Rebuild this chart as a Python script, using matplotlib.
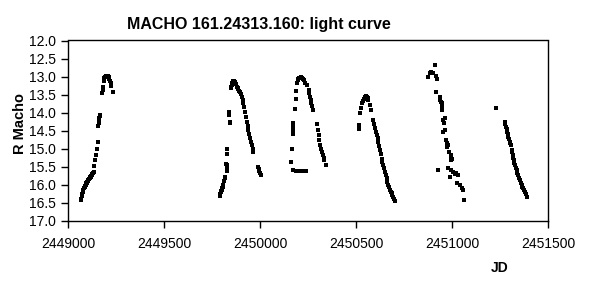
import numpy as np
import matplotlib
matplotlib.use('Agg')
import matplotlib.pyplot as plt
from matplotlib.ticker import FormatStrFormatter, MultipleLocator

plt.rcParams['font.family'] = ['Liberation Sans', 'DejaVu Sans']

# ── Photometry, one list per observing season (JD, R mag) ─────────────
jd1 = [2449066, 2449068, 2449071, 2449074, 2449077, 2449080, 2449083, 2449086,
       2449089, 2449092, 2449095, 2449097, 2449100, 2449103, 2449106, 2449109,
       2449112, 2449115, 2449118, 2449121, 2449124, 2449127, 2449130, 2449133,
       2449137, 2449141, 2449144, 2449149, 2449156,
       2449157, 2449159, 2449161, 2449163, 2449166, 2449169,
       2449175, 2449181, 2449184,
       2449185, 2449189, 2449193, 2449198, 2449203, 2449207, 2449211, 2449215,
       2449219, 2449222, 2449225, 2449236]
mag1 = [16.43, 16.40, 16.32, 16.25, 16.20, 16.16, 16.10, 16.06,
        16.03, 16.00, 15.97, 15.95, 15.92, 15.89, 15.87, 15.85,
        15.82, 15.80, 15.78, 15.76, 15.74, 15.71, 15.68, 15.64,
        15.49, 15.33, 15.18, 15.02, 14.81,
        14.38, 14.30, 14.22, 14.15, 14.10, 14.07,
        13.47, 13.38, 13.28,
        13.12, 13.03, 13.00, 12.98, 12.98, 12.99, 13.02, 13.06,
        13.12, 13.18, 13.25, 13.44]

jd2 = [2449790, 2449793, 2449795, 2449798, 2449800, 2449803, 2449806, 2449809,
       2449812, 2449816, 2449819,
       2449826, 2449829,
       2449825, 2449826, 2449827, 2449828, 2449829, 2449830,
       2449840, 2449841, 2449844, 2449845,
       2449847, 2449850, 2449852, 2449855, 2449857, 2449861, 2449865, 2449870,
       2449875, 2449879, 2449883, 2449887, 2449891, 2449896, 2449900, 2449905,
       2449909, 2449913, 2449917, 2449922, 2449926, 2449931, 2449935, 2449939,
       2449944, 2449948, 2449952, 2449957, 2449961, 2449965,
       2449990, 2449993, 2449996, 2450000, 2450005]
mag2 = [16.31, 16.26, 16.22, 16.18, 16.15, 16.10, 16.06, 16.00,
        15.90, 15.83, 15.80,
        15.00, 15.15,
        15.42, 15.46, 15.50, 15.54, 15.58, 15.62,
        13.98, 14.06, 14.26, 14.30,
        13.33, 13.28, 13.24, 13.18, 13.14, 13.12, 13.12, 13.16,
        13.22, 13.28, 13.32, 13.36, 13.39, 13.42, 13.48, 13.56,
        13.65, 13.74, 13.86, 13.98, 14.12, 14.25, 14.37, 14.49,
        14.61, 14.72, 14.81, 14.90, 15.00, 15.09,
        15.50, 15.56, 15.62, 15.68, 15.73]

jd3 = [2450160, 2450168, 2450170, 2450171, 2450173, 2450174, 2450181, 2450186,
       2450188,
       2450191, 2450196, 2450200, 2450203, 2450208, 2450212, 2450216, 2450220,
       2450225, 2450229, 2450236, 2450243,
       2450253, 2450257, 2450260, 2450264, 2450267, 2450271, 2450278,
       2450295, 2450300, 2450305, 2450309, 2450312, 2450318, 2450322, 2450326,
       2450331, 2450335, 2450344,
       2450174, 2450185, 2450197, 2450205, 2450215, 2450225, 2450240]
mag3 = [15.37, 15.00, 14.59, 14.51, 14.40, 14.29, 13.91, 13.63,
        13.39,
        13.19, 13.10, 13.07, 13.05, 13.03, 13.02, 13.03, 13.05,
        13.07, 13.10, 13.17, 13.24,
        13.37, 13.47, 13.56, 13.65, 13.74, 13.83, 13.93,
        14.32, 14.49, 14.63, 14.76, 14.90, 15.02, 15.10, 15.18,
        15.25, 15.32, 15.46,
        15.60, 15.62, 15.62, 15.63, 15.63, 15.62, 15.63]

jd4 = [2450516, 2450516, 2450521, 2450526, 2450533, 2450537, 2450540, 2450545,
       2450550, 2450554, 2450557, 2450561, 2450564, 2450571, 2450578,
       2450590, 2450594, 2450599, 2450603, 2450608, 2450612, 2450616, 2450621,
       2450625, 2450630, 2450634, 2450638, 2450642, 2450647, 2450651, 2450655,
       2450660, 2450664, 2450668, 2450673, 2450677, 2450682, 2450686, 2450690,
       2450694, 2450699, 2450703]
mag4 = [14.35, 14.47, 14.02, 13.88, 13.74, 13.68, 13.63, 13.58,
        13.54, 13.54, 13.56, 13.60, 13.65, 13.79, 13.93,
        14.21, 14.33, 14.44, 14.54, 14.63, 14.72, 14.81, 14.93,
        15.04, 15.16, 15.28, 15.37, 15.46, 15.55, 15.64, 15.73,
        15.83, 15.92, 16.01, 16.08, 16.15, 16.20, 16.24, 16.29,
        16.34, 16.40, 16.45]

jd5 = [2450911, 2450877, 2450885, 2450893, 2450903, 2450915, 2450920, 2450915,
       2450937, 2450937, 2450946, 2450946, 2450949, 2450954, 2450962, 2450954,
       2450962, 2450967, 2450972, 2450980, 2450985, 2450994, 2451001, 2450994,
       2450929, 2450980, 2450994, 2451007, 2451016, 2451030, 2450990, 2451024,
       2451042, 2451050, 2451059, 2451064,
       2450944, 2450957, 2450975, 2450997, 2451020]
mag5 = [12.68, 13.00, 12.91, 12.88, 12.89, 12.99, 13.08, 13.42,
        13.56, 13.65, 13.74, 13.85, 13.93, 14.21, 14.16, 14.53,
        14.49, 14.76, 14.86, 14.90, 15.09, 15.18, 15.28, 15.32,
        15.60, 15.55, 15.60, 15.64, 15.71, 15.74, 15.80, 15.97,
        16.01, 16.11, 16.15, 16.43,
        13.70, 14.30, 14.95, 15.22, 15.68]

jd6 = [2451229, 2451276, 2451278, 2451281, 2451284, 2451286, 2451290, 2451293,
       2451296, 2451300, 2451304, 2451307, 2451311, 2451313, 2451316, 2451319,
       2451321, 2451325, 2451328, 2451332, 2451337, 2451341, 2451345, 2451350,
       2451354, 2451358, 2451363, 2451367, 2451371, 2451376, 2451380, 2451384,
       2451389]
mag6 = [13.88, 14.25, 14.32, 14.39, 14.46, 14.53, 14.60, 14.67,
        14.74, 14.81, 14.86, 14.90, 15.04, 15.11, 15.18, 15.25,
        15.32, 15.39, 15.46, 15.53, 15.60, 15.67, 15.74, 15.81,
        15.88, 15.95, 16.01, 16.06, 16.11, 16.16, 16.20, 16.27,
        16.34]

jd = np.concatenate([jd1, jd2, jd3, jd4, jd5, jd6])
mag = np.concatenate([mag1, mag2, mag3, mag4, mag5, mag6])

# ── Plot (Excel-like look) ────────────────────────────────────────────
fig = plt.figure(figsize=(5.89, 2.93), dpi=100)
ax = fig.add_axes([68/589, 1 - 220.5/293, 480/589, 180/293])

ax.plot(jd, mag, 's', color='black', markersize=2.6, markeredgewidth=0)

ax.set_xlim(2449000, 2451500)
ax.set_ylim(17.0, 12.0)
ax.xaxis.set_major_locator(MultipleLocator(500))
ax.yaxis.set_major_locator(MultipleLocator(0.5))
ax.xaxis.set_major_formatter(FormatStrFormatter('%d'))
ax.yaxis.set_major_formatter(FormatStrFormatter('%.1f'))
ax.tick_params(direction='out', length=5, width=1, labelsize=10, color='black')
ax.tick_params(axis='x', pad=7)
ax.tick_params(axis='y', pad=4)
for s in ax.spines.values():
    s.set_linewidth(1)
    s.set_color('black')

fig.text(0.44, 1 - 25/293, 'MACHO 161.24313.160: light curve',
         ha='center', va='center', fontsize=11.5, fontweight='bold')
fig.text(20/589, 1 - 123/293, 'R Macho', rotation=90,
         ha='center', va='center', fontsize=10.5, fontweight='bold')
fig.text(500/589, 1 - 268/293, 'JD', ha='center', va='center',
         fontsize=10, fontweight='bold')

plt.savefig('out.png', dpi=100)
plt.close()
